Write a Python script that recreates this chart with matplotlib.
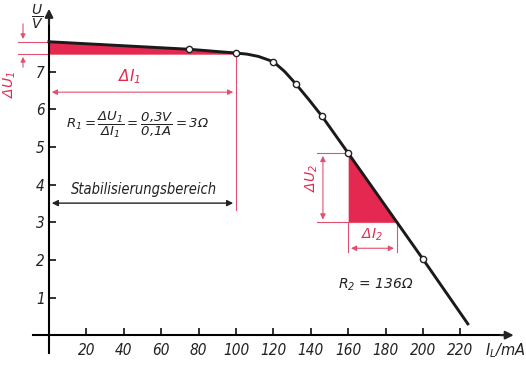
import matplotlib
matplotlib.use("Agg")
import matplotlib.pyplot as plt
import numpy as np

plt.rcParams["font.family"] = "DejaVu Sans"
plt.rcParams["font.style"] = "italic"
plt.rcParams["mathtext.fontset"] = "custom"
plt.rcParams["mathtext.it"] = "DejaVu Sans:italic"
plt.rcParams["mathtext.rm"] = "DejaVu Sans:italic"
plt.rcParams["mathtext.sf"] = "DejaVu Sans:italic"

# Kennlinie U(I_L)
kurve_I = [0, 75, 100, 106, 112, 120, 126, 132, 139, 146, 160, 200, 224]
kurve_U = [7.8, 7.6, 7.5, 7.47, 7.41, 7.27, 7.01, 6.68, 6.26, 5.82, 4.84, 2.02, 0.3]
# Messpunkte (offene Kreise)
mess_I = [75, 100, 120, 132, 146, 160, 200]
mess_U = [7.6, 7.5, 7.26, 6.68, 5.82, 4.84, 2.02]

x_ticks = [20, 40, 60, 80, 100, 120, 140, 160, 180, 200, 220]
y_ticks = [1, 2, 3, 4, 5, 6, 7]

# Stabilisierungsbereich und Dreieck 2
I_stab = 100
U1_oben, U1_unten = 7.8, 7.5
I2_a, I2_b = 160, 186
U2_unten = 3.0

rot = "#e4284f"
rot_linie = "#e2506e"

fig = plt.figure(figsize=(5.26, 3.66), dpi=100)
ax = fig.add_axes([0, 0, 1, 1])
ax.set_xlim(-26.2, 255.1)
ax.set_ylim(-0.82, 8.91)

for s in ["top", "right"]:
    ax.spines[s].set_visible(False)
ax.spines["left"].set_position(("data", 0))
ax.spines["bottom"].set_position(("data", 0))
ax.spines["left"].set_bounds(-0.48, 8.5)
ax.spines["bottom"].set_bounds(-8.6, 245)
ax.spines["left"].set_linewidth(1.5)
ax.spines["bottom"].set_linewidth(1.5)
ax.annotate("", xy=(0, 8.75), xytext=(0, 8.2),
            arrowprops=dict(arrowstyle="-|>", color="#222222", lw=1.5, mutation_scale=12))
ax.annotate("", xy=(250, 0), xytext=(240, 0),
            arrowprops=dict(arrowstyle="-|>", color="#222222", lw=1.5, mutation_scale=12))

ax.set_xticks(x_ticks)
ax.set_yticks(y_ticks)
ax.tick_params(direction="in", length=5, width=1.3, colors="#222222", labelsize=11)
ax.tick_params(axis="x", pad=6)
ax.tick_params(axis="y", pad=3)
for lab in ax.get_xticklabels() + ax.get_yticklabels():
    lab.set_fontstyle("italic")
    lab.set_fontstretch("condensed")

ax.text(-6.4, 8.45, r"$\dfrac{U}{V}$", fontsize=10, ha="center", va="center", color="#222222")
ax.text(244, -0.4, r"$I_L$/mA", fontsize=10.5, ha="center", va="center", color="#222222")

# rote Flaeche 1
sel = [i for i in range(len(kurve_I)) if kurve_I[i] <= I_stab]
ax.fill_between([kurve_I[i] for i in sel], [kurve_U[i] for i in sel], U1_unten - 0.03,
                color=rot, lw=0, zorder=2)

# rote Flaeche 2
xs = np.array([I2_a, I2_b])
ax.fill_between(xs, np.interp(xs, kurve_I, kurve_U), U2_unten, color=rot, lw=0, zorder=2)

# Kennlinie
ax.plot(kurve_I, kurve_U, color="#1a1a1a", lw=2.1, zorder=3)
ax.plot(mess_I, mess_U, "o", ms=4.5, mfc="white", mec="#222222", mew=1, zorder=4)

# Delta U1
ax.plot([-16.6, 0], [U1_oben, U1_oben], color=rot_linie, lw=0.8)
ax.plot([-16.6, 0], [U1_unten - 0.03, U1_unten - 0.03], color=rot_linie, lw=0.8)
ax.annotate("", xy=(-13.9, U1_oben), xytext=(-13.9, 8.35),
            arrowprops=dict(arrowstyle="-|>", color=rot_linie, lw=0.8, mutation_scale=7))
ax.annotate("", xy=(-13.9, U1_unten - 0.03), xytext=(-13.9, 7.05),
            arrowprops=dict(arrowstyle="-|>", color=rot_linie, lw=0.8, mutation_scale=7))
ax.text(-21, 6.68, r"$\Delta U_1$", color=rot, fontsize=10, rotation=90,
        ha="center", va="center")

# Delta I1
ax.plot([I_stab, I_stab], [U1_unten, 3.32], color=rot_linie, lw=0.8)
ax.annotate("", xy=(0, 6.46), xytext=(I_stab, 6.46),
            arrowprops=dict(arrowstyle="<|-|>", color=rot_linie, lw=0.8, mutation_scale=8))
ax.text(43, 6.86, r"$\Delta I_1$", color=rot, fontsize=11, ha="center", va="center")

ax.text(9, 5.58, r"$R_1 = \dfrac{\Delta U_1}{\Delta I_1} = \dfrac{0{,}3V}{0{,}1A} = 3\Omega$",
        fontsize=9.5, ha="left", va="center", color="#222222")

# Stabilisierungsbereich
ax.annotate("", xy=(0, 3.51), xytext=(I_stab, 3.51),
            arrowprops=dict(arrowstyle="<|-|>", color="#222222", lw=1.0, mutation_scale=9))
ax.text(51, 3.86, "Stabilisierungsbereich", fontsize=10.5, ha="center", va="center",
        color="#222222", style="italic", stretch="condensed")

# Delta U2
U2_oben = np.interp(I2_a, kurve_I, kurve_U)
ax.plot([143.3, I2_a], [U2_oben, U2_oben], color=rot_linie, lw=0.8)
ax.plot([143.3, I2_b], [U2_unten, U2_unten], color=rot_linie, lw=0.8)
ax.annotate("", xy=(146.5, U2_oben), xytext=(146.5, U2_unten),
            arrowprops=dict(arrowstyle="<|-|>", color=rot_linie, lw=0.8, mutation_scale=8))
ax.text(140.4, 4.18, r"$\Delta U_2$", color=rot, fontsize=10, rotation=90,
        ha="center", va="center")

# Delta I2
ax.plot([I2_a, I2_a], [U2_unten, 2.2], color=rot_linie, lw=0.8)
ax.plot([I2_b, I2_b], [U2_unten, 2.2], color=rot_linie, lw=0.8)
ax.annotate("", xy=(I2_a, 2.31), xytext=(I2_b, 2.31),
            arrowprops=dict(arrowstyle="<|-|>", color=rot_linie, lw=0.8, mutation_scale=8))
ax.text(173, 2.66, r"$\Delta I_2$", color=rot, fontsize=10, ha="center", va="center")

ax.text(175, 1.33, r"$R_2$ = 136Ω", fontsize=10, ha="center", va="center",
        color="#222222", style="italic")

fig.savefig("out.png", dpi=100)
